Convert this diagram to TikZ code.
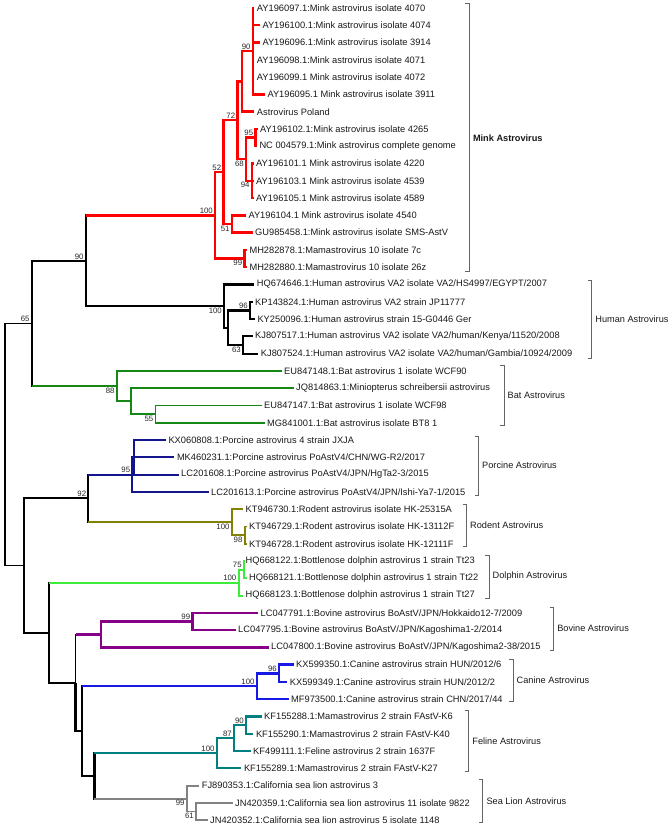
\documentclass[tikz,border=0pt]{standalone}
\usepackage{fontspec}
\setmainfont{Liberation Sans}
\usepackage{tikz}
\usepackage{xcolor}
\definecolor{minkred}{RGB}{255, 0, 0}
\definecolor{batgreen}{RGB}{20, 135, 20}
\definecolor{porcinenavy}{RGB}{20, 20, 140}
\definecolor{rodentolive}{RGB}{130, 130, 0}
\definecolor{dolphinlime}{RGB}{60, 235, 60}
\definecolor{bovinepurple}{RGB}{135, 0, 135}
\definecolor{canineblue}{RGB}{25, 25, 230}
\definecolor{felineteal}{RGB}{0, 128, 128}
\definecolor{sealiongray}{RGB}{130, 130, 130}
\definecolor{bracketgray}{RGB}{100, 100, 100}
\tikzstyle{branch} = [line width=2pt]
\tikzstyle{bb} = [branch, black, line width=1.8pt]
\tikzstyle{bbt} = [branch, black, line width=2.8pt]
\tikzstyle{mk} = [branch, minkred, line width=2.4pt]
\tikzstyle{hu} = [branch, black, line width=2.2pt]
\tikzstyle{bt} = [branch, batgreen, line width=1.8pt]
\tikzstyle{pc} = [branch, porcinenavy, line width=2pt]
\tikzstyle{rd} = [branch, rodentolive, line width=1.8pt]
\tikzstyle{dp} = [branch, dolphinlime, line width=2pt]
\tikzstyle{bv} = [branch, bovinepurple, line width=2.4pt]
\tikzstyle{cn} = [branch, canineblue, line width=2.4pt]
\tikzstyle{fl} = [branch, felineteal, line width=2.2pt]
\tikzstyle{sl} = [branch, sealiongray, line width=1.8pt]
\tikzstyle{leaf} = [anchor=west, inner xsep=2.5pt, inner ysep=0pt, text=black!90, font=\fontsize{9.3}{11}\selectfont]
\tikzstyle{bsup} = [anchor=south east, inner sep=0.5pt, xshift=-1.5pt, yshift=1pt, text=black!85, font=\fontsize{7.8}{9}\selectfont]
\tikzstyle{bsdown} = [anchor=north east, inner sep=0.5pt, xshift=-1.5pt, yshift=-1pt, text=black!85, font=\fontsize{7.8}{9}\selectfont]
\tikzstyle{clade} = [bracketgray, line width=1pt]
\tikzstyle{cladename} = [anchor=west, inner xsep=3.5pt, text=black!90, font=\fontsize{9.2}{11}\selectfont]

\begin{document}
\begin{tikzpicture}[x=1pt, y=-1pt]
\useasboundingbox (0,0) rectangle (669,832);

% Taxa
\foreach \i/\tx/\lab in {
  1/256.7/{AY196097.1:Mink astrovirus isolate 4070},
  2/262.3/{AY196100.1:Mink astrovirus isolate 4074},
  3/262.3/{AY196096.1:Mink astrovirus isolate 3914},
  4/256.7/{AY196098.1:Mink astrovirus isolate 4071},
  5/256.7/{AY196099.1 Mink astrovirus isolate 4072},
  6/267.3/{AY196095.1 Mink astrovirus isolate 3911},
  7/256.7/{Astrovirus Poland},
  8/260/{AY196102.1:Mink astrovirus isolate 4265},
  9/259.3/{NC 004579.1:Mink astrovirus complete genome},
  10/256/{AY196101.1 Mink astrovirus isolate 4220},
  11/256/{AY196103.1 Mink astrovirus isolate 4539},
  12/256/{AY196105.1 Mink astrovirus isolate 4589},
  13/248.3/{AY196104.1 Mink astrovirus isolate 4540},
  14/255/{GU985458.1:Mink astrovirus isolate SMS-AstV},
  15/249.3/{MH282878.1:Mamastrovirus 10 isolate 7c},
  16/249.3/{MH282880.1:Mamastrovirus 10 isolate 26z},
  17/256.7/{HQ674646.1:Human astrovirus VA2 isolate VA2/HS4997/EGYPT/2007},
  18/255/{KP143824.1:Human astrovirus VA2 strain JP11777},
  19/257.3/{KY250096.1:Human astrovirus strain 15-G0446 Ger},
  20/255/{KJ807517.1:Human astrovirus VA2 isolate VA2/human/Kenya/11520/2008},
  21/260.7/{KJ807524.1:Human astrovirus VA2 isolate VA2/human/Gambia/10924/2009},
  22/284/{EU847148.1:Bat astrovirus 1 isolate WCF90},
  23/296/{JQ814863.1:Miniopterus schreibersii astrovirus},
  24/264/{EU847147.1:Bat astrovirus 1 isolate WCF98},
  25/267/{MG841001.1:Bat astrovirus isolate BT8 1},
  26/168.3/{KX060808.1:Porcine astrovirus 4 strain JXJA},
  27/176.8/{MK460231.1:Porcine astrovirus PoAstV4/CHN/WG-R2/2017},
  28/181/{LC201608.1:Porcine astrovirus PoAstV4/JPN/HgTa2-3/2015},
  29/211/{LC201613.1:Porcine astrovirus PoAstV4/JPN/Ishi-Ya7-1/2015},
  30/245.5/{KT946730.1:Rodent astrovirus isolate HK-25315A},
  31/249/{KT946729.1:Rodent astrovirus isolate HK-13112F},
  32/249/{KT946728.1:Rodent astrovirus isolate HK-12111F},
  33/245.5/{HQ668122.1:Bottlenose dolphin astrovirus 1 strain Tt23},
  34/249/{HQ668121.1:Bottlenose dolphin astrovirus 1 strain Tt22},
  35/245.5/{HQ668123.1:Bottlenose dolphin astrovirus 1 strain Tt27},
  36/260.5/{LC047791.1:Bovine astrovirus BoAstV/JPN/Hokkaido12-7/2009},
  37/238/{LC047795.1:Bovine astrovirus BoAstV/JPN/Kagoshima1-2/2014},
  38/271/{LC047800.1:Bovine astrovirus BoAstV/JPN/Kagoshima2-38/2015},
  39/296/{KX599350.1:Canine astrovirus strain HUN/2012/6},
  40/289.7/{KX599349.1:Canine astrovirus strain HUN/2012/2},
  41/291/{MF973500.1:Canine astrovirus strain CHN/2017/44},
  42/264/{KF155288.1:Mamastrovirus 2 strain FAstV-K6},
  43/255.8/{KF155290.1:Mamastrovirus 2 strain FAstV-K40},
  44/253/{KF499111.1:Feline astrovirus 2 strain 1637F},
  45/243.8/{KF155289.1:Mamastrovirus 2 strain FAstV-K27},
  46/201.7/{FJ890353.1:California sea lion astrovirus 3},
  47/235/{JN420359.1:California sea lion astrovirus 11 isolate 9822},
  48/210/{JN420352.1:California sea lion astrovirus 5 isolate 1148}}
  \node[leaf] (l\i) at ({\tx-2.5}, {8+17.28*(\i-1)}) {\lab};

% Internal nodes
\foreach \n/\x/\y in {nA/252.7/51.2, nB/242/81.4, n95/255.3/137.6, n94/251.7/180.8,
  n68/246/159.2, n72/237.3/120.3, n51/231.7/224, n52/223.3/172.2, n99m/244.3/258.6,
  n100m/215/215.4, n96h/250/310.4, n63/243/345, nH2/228/327.7, n100h/224/306.1,
  n90/85.7/260.8, n55/155.5/414.1, nBat2/131/401.1, n88/116.7/386, n65/31.7/323.4,
  nP2/134.3/457.3, n95p/132.3/474.6, n98/244.6/535, n100r/231.7/522.1, n92/88.3/498.3,
  n75/243.8/569.6, n100d/238.5/582.6, n99b/192.3/621.4, nBov/100.7/634.4,
  n96c/279/673.3, n100c/256.7/686.2, n90f/246/725.1, n87/233.9/738.1, n100f/216.7/753.2,
  n61/196/811.5, n99s/186.7/798.6, nE/94.4/775.9, nD/82/731, nC/75.5/682.7,
  nB0/49.3/632.7, nA0/24/565.5, root/5/444.5}
  \coordinate (\n) at (\x,\y);

% Branches
\foreach \st/\p/\c in {
  mk/nA/l1, mk/nA/l2, mk/nA/l3, mk/nA/l4, mk/nA/l5, mk/nA/l6, mk/nB/nA, mk/nB/l7,
  mk/n95/l8, mk/n95/l9, mk/n94/l10, mk/n94/l11, mk/n94/l12, mk/n68/n95, mk/n68/n94,
  mk/n72/nB, mk/n72/n68, mk/n51/l13, mk/n51/l14, mk/n52/n72, mk/n52/n51,
  mk/n99m/l15, mk/n99m/l16, mk/n100m/n52, mk/n100m/n99m,
  hu/n96h/l18, hu/n96h/l19, hu/n63/l20, hu/n63/l21, hu/nH2/n96h, hu/nH2/n63,
  hu/n100h/l17, hu/n100h/nH2, hu/n90/n100h,
  bb/n65/n90, bb/root/n65, bb/root/nA0, bb/nA0/n92, bb/nA0/nB0, bb/nB0/nC,
  bbt/nC/nD, bbt/nD/nE,
  bt/n88/l22, bt/n88/nBat2, bt/nBat2/l23, bt/nBat2/n55, bt/n55/l24, bt/n55/l25,
  pc/nP2/l26, pc/nP2/l27, pc/nP2/l28, pc/n95p/nP2, pc/n95p/l29,
  rd/n100r/l30, rd/n100r/n98, rd/n98/l31, rd/n98/l32,
  dp/n75/l33, dp/n75/l34, dp/n100d/n75, dp/n100d/l35,
  bv/n99b/l36, bv/n99b/l37, bv/nBov/n99b, bv/nBov/l38,
  cn/n96c/l39, cn/n96c/l40, cn/n100c/n96c, cn/n100c/l41,
  fl/n90f/l42, fl/n90f/l43, fl/n87/n90f, fl/n87/l44, fl/n100f/n87, fl/n100f/l45,
  sl/n99s/l46, sl/n99s/n61, sl/n61/l47, sl/n61/l48}
  \draw[\st] (\p) |- (\c);

% Clade roots: black stem, coloured branch
\foreach \p/\c/\vs/\st in {n90/n100m/hu/mk, n65/n88/bb/bt, n92/n95p/bb/pc, n92/n100r/bb/rd,
  nB0/n100d/bb/dp, nC/nBov/bb/bv, nD/n100c/bbt/cn, nE/n100f/bbt/fl, nE/n99s/bbt/sl} {
  \draw[\vs, line cap=rect] (\p) -- (\p |- \c);
  \draw[\st] (\p |- \c) -- (\c);
}

% Bootstrap values
\foreach \n/\v in {nA/90, n95/95, n72/72, n52/52, n100m/100, n96h/96, n90/90, n65/65,
  n92/92, n95p/95, n100d/100, n75/75, n99b/99, n100c/100, n96c/96, n100f/100, n87/87, n90f/90}
  \node[bsup] (b\n) at (\n) {\v};
\foreach \n/\v in {n68/68, n94/94, n51/51, n99m/99, n100h/100, n63/63, n88/88, n55/55,
  n100r/100, n98/98, n99s/99, n61/61}
  \node[bsdown] (b\n) at (\n) {\v};

% Clade brackets
\foreach \cl/\bx/\ta/\tb/\lab in {
  mink/469.3/4/271.7/{\textbf{Mink Astrovirus}},
  human/591.7/280/358.3/{Human Astrovirus},
  bat/504/365.7/425.7/{Bat Astrovirus},
  porcine/478.5/436/495/{Porcine Astrovirus},
  rodent/466.5/504/546.7/{Rodent Astrovirus},
  dolphin/489/555/598/{Dolphin Astrovirus},
  bovine/553.6/607/650/{Bovine Astrovirus},
  canine/513/659/701.7/{Canine Astrovirus},
  feline/468.7/710/771.7/{Feline Astrovirus},
  sealion/482.8/779/822.7/{Sea Lion Astrovirus}} {
  \draw[clade] ({\bx-4},\ta) -| (\bx,\tb) -- ++(-4,0);
  \node[cladename] (\cl) at (\bx, {(\ta+\tb)/2}) {\lab};
}
\end{tikzpicture}
\end{document}
